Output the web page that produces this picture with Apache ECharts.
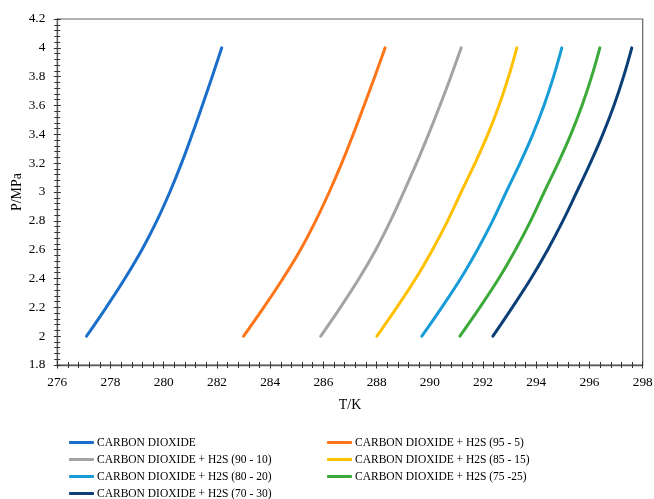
<!DOCTYPE html>
<html>
<head>
<meta charset="utf-8">
<script src="https://cdn.jsdelivr.net/npm/echarts@6/dist/echarts.min.js"></script>
<style>
html,body{margin:0;padding:0;background:#fff;}
#chart{width:654px;height:499px;}
</style>
</head>
<body>
<div id="chart"></div>
<script>
// Pressure levels (MPa)
const pressures = [2.0, 2.2, 2.4, 2.6, 2.8, 3.0, 3.2, 3.4, 3.6, 3.8, 4.0];
// Temperatures (K) for each mixture
const tCO2      = [277.10, 277.84, 278.54, 279.18, 279.74, 280.23, 280.67, 281.07, 281.45, 281.82, 282.18];
const tH2S_95_5 = [283.00, 283.76, 284.48, 285.14, 285.71, 286.22, 286.69, 287.12, 287.53, 287.93, 288.32];
const tH2S_90_10= [285.90, 286.64, 287.34, 287.97, 288.52, 289.02, 289.50, 289.95, 290.38, 290.79, 291.18];
const tH2S_85_15= [288.01, 288.76, 289.47, 290.10, 290.67, 291.18, 291.70, 292.18, 292.60, 292.96, 293.27];
const tH2S_80_20= [289.70, 290.45, 291.16, 291.79, 292.36, 292.87, 293.39, 293.87, 294.29, 294.65, 294.96];
const tH2S_75_25= [291.13, 291.88, 292.59, 293.22, 293.79, 294.30, 294.82, 295.30, 295.72, 296.08, 296.39];
const tH2S_70_30= [292.37, 293.10, 293.80, 294.43, 295.00, 295.52, 296.03, 296.50, 296.92, 297.28, 297.59];

const names = [
  'CARBON DIOXIDE',
  'CARBON DIOXIDE + H2S (95 - 5)',
  'CARBON DIOXIDE + H2S (90 - 10)',
  'CARBON DIOXIDE + H2S (85 - 15)',
  'CARBON DIOXIDE + H2S (80 - 20)',
  'CARBON DIOXIDE + H2S (75 -25)',
  'CARBON DIOXIDE + H2S (70 - 30)'
];
const temps = [tCO2, tH2S_95_5, tH2S_90_10, tH2S_85_15, tH2S_80_20, tH2S_75_25, tH2S_70_30];
const colors = ['#1a6fca', '#ff7519', '#a3a3a3', '#ffc000', '#179cd8', '#3caa38', '#0c3e78'];

const font = 'Liberation Serif, Times New Roman, serif';
const axisColor = '#595959';

const series = names.map((n, i) => ({
  name: n,
  type: 'line',
  smooth: 0.4,
  symbol: 'none',
  xAxisIndex: 0,
  yAxisIndex: 0,
  lineStyle: {width: 3, color: colors[i], cap: 'round'},
  itemStyle: {color: colors[i]},
  data: temps[i].map((t, k) => [t, pressures[k]])
}));

const baseX = {
  type: 'value', min: 276, max: 298, interval: 2,
  splitLine: {show: false}
};
const baseY = {
  type: 'value', min: 1.8, max: 4.2, interval: 0.2,
  splitLine: {show: false}
};

const legendCommon = {
  orient: 'vertical', top: 436, height: 80, padding: 0,
  icon: 'roundRect',
  itemWidth: 25, itemHeight: 3, itemGap: 4,
  textStyle: {fontFamily: font, fontSize: 11.5, color: '#000', padding: [0, 0, 0, -2], lineHeight: 13}
};

const option = {
  animation: false,
  backgroundColor: '#fff',
  grid: {left: 57.3, right: 11.3, top: 19, bottom: 134, containLabel: false, outerBoundsMode: 'none',
         show: true, borderColor: '#666', borderWidth: 1.2},
  xAxis: [
    Object.assign({}, baseX, {
      position: 'bottom',
      name: 'T/K', nameLocation: 'middle', nameGap: 33,
      nameTextStyle: {fontFamily: font, fontSize: 14, color: '#000'},
      axisLine: {show: true, lineStyle: {color: axisColor, width: 1.3}},
      axisTick: {show: true, length: 3.5, lineStyle: {color: '#333'}},
      minorTick: {show: true, splitNumber: 5, length: 3, lineStyle: {color: '#333'}},
      axisLabel: {fontFamily: font, fontSize: 13.3, color: '#000', margin: 11}
    }),
    Object.assign({}, baseX, {
      position: 'bottom', gridIndex: 0,
      axisLine: {show: false},
      axisTick: {show: true, inside: true, length: 3.5, lineStyle: {color: '#333'}},
      minorTick: {show: true, splitNumber: 5, length: 3, lineStyle: {color: '#333'}},
      axisLabel: {show: false}
    })
  ],
  yAxis: [
    Object.assign({}, baseY, {
      position: 'left',
      name: 'P/MPa', nameLocation: 'middle', nameGap: 33, nameRotate: 90, nameMoveOverlap: false,
      nameTextStyle: {fontFamily: font, fontSize: 14, color: '#000'},
      axisLine: {show: true, lineStyle: {color: axisColor, width: 1.3}},
      axisTick: {show: true, length: 3.5, lineStyle: {color: '#333'}},
      minorTick: {show: true, splitNumber: 5, length: 3, lineStyle: {color: '#333'}},
      axisLabel: {fontFamily: font, fontSize: 13.3, color: '#000', margin: 12}
    }),
    Object.assign({}, baseY, {
      position: 'left', gridIndex: 0,
      axisLine: {show: false},
      axisTick: {show: true, inside: true, length: 3.5, lineStyle: {color: '#333'}},
      minorTick: {show: true, splitNumber: 5, length: 3, lineStyle: {color: '#333'}},
      axisLabel: {show: false}
    })
  ],
  legend: [
    Object.assign({}, legendCommon, {left: 69, data: [names[0], names[2], names[4], names[6]]}),
    Object.assign({}, legendCommon, {left: 327, data: [names[1], names[3], names[5]]})
  ],
  series: series
};

const chart = echarts.init(document.getElementById('chart'), null, {renderer: 'canvas'});
chart.setOption(option);
</script>
</body>
</html>
